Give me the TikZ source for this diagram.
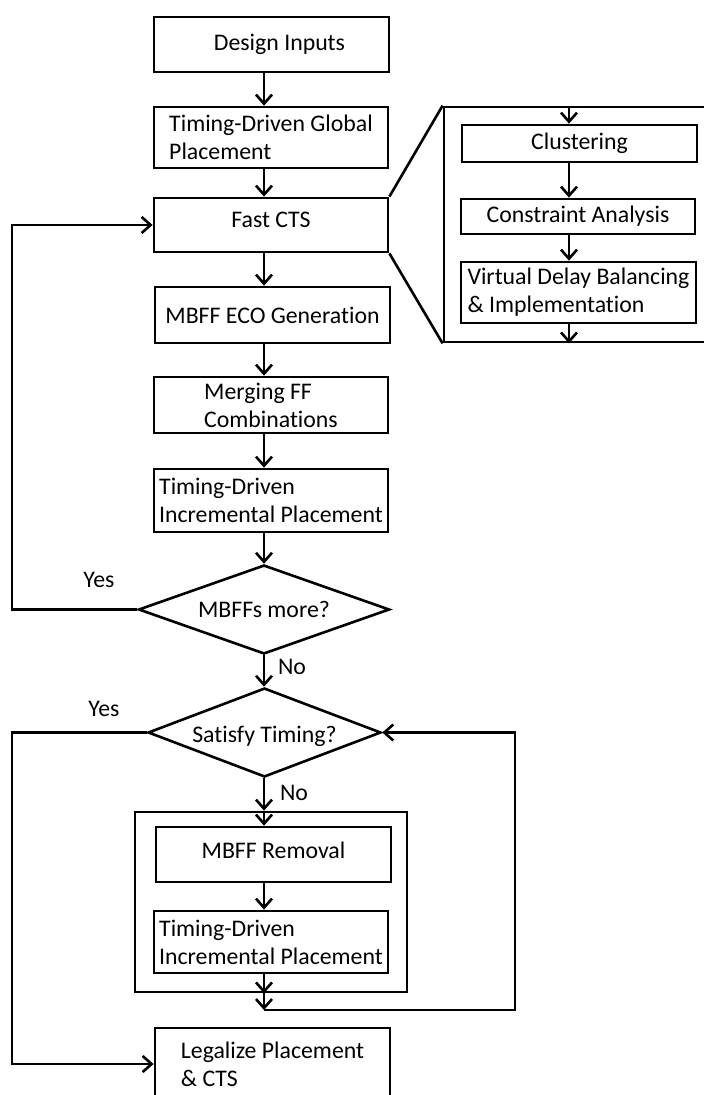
\documentclass[tikz,border=0pt]{standalone}
\usepackage{fontspec}
\setmainfont{Carlito}[Ligatures=NoCommon]
\usetikzlibrary{arrows.meta,shapes.geometric}
\begin{document}
\begin{tikzpicture}[x=1pt,y=-1pt,
  every node/.style={font=\fontsize{23.8}{28.2}\selectfont, inner sep=0pt},
  box/.style={draw, rectangle, line width=2.8pt, align=left},
  decision/.style={draw, diamond, shape aspect=2.8, line width=2.6pt, align=center},
  link/.style={line width=2.6pt},
  arr/.style={link, -{Straight Barb[length=9pt,width=16pt]}}]
\useasboundingbox (0,0) rectangle (704,1095);

% column guides for the connectors
\coordinate (col) at (264,0);
\coordinate (rc) at (569,0);
\coordinate (lx) at (12,0);

% main flow
\node[box, minimum width=235pt, minimum height=55pt] (in) at (271.5,44.5) {\hspace*{16pt}Design Inputs};
\node[box, minimum width=234pt, minimum height=61pt] (gp) at (271,137.5) {Timing-Driven Global\\Placement};
\node[box, minimum width=234pt, minimum height=54pt] (cts) at (271,225) {\raisebox{5pt}[\height][\depth]{Fast CTS}};
\node[box, minimum width=235pt, minimum height=56pt] (eco) at (272.5,315) {MBFF ECO Generation};
\node[box, minimum width=234pt, minimum height=56pt] (merge) at (271,405) {Merging FF\\Combinations};
\node[box, minimum width=234pt, minimum height=63pt] (tdip) at (271,500.5) {Timing-Driven\\Incremental Placement};
\node[decision, minimum width=251pt, minimum height=89pt] (more) at (264,609.5) {MBFFs more?};
\node[decision, minimum width=233pt, minimum height=89pt] (sat) at (264.5,732.5) {\raisebox{-4pt}[\height][\depth]{Satisfy Timing?}};

% removal group
\node[box, minimum width=272pt, minimum height=180pt] (grp) at (271,902) {};
\node[box, minimum width=235pt, minimum height=55pt] (rem) at (273.5,854.5) {\raisebox{4pt}[\height][\depth]{MBFF Removal}};
\node[box, minimum width=234pt, minimum height=62pt] (tdip2) at (271,942) {Timing-Driven\\Incremental Placement};
\node[box, minimum width=235pt, minimum height=72pt] (leg) at (272.5,1064) {Legalize Placement\\\& CTS};

% detail panel of Fast CTS
\node[box, minimum width=266pt, minimum height=235pt] (panel) at (577,224.5) {};
\node[box, minimum width=235pt, minimum height=37pt] (clus) at (579.5,143.5) {Clustering};
\node[box, minimum width=234pt, minimum height=35pt] (cons) at (578,216.5) {Constraint Analysis};
\node[box, minimum width=235pt, minimum height=61pt] (vdb) at (578.5,292.5) {Virtual Delay Balancing\\\& Implementation};

% labels
\node at (99,580) {Yes};
\node at (104,709) {Yes};
\node at (292,667) {No};
\node at (294,793) {No};

% main connectors
\draw[arr] (in.south -| col) -- (gp.north -| col);
\draw[arr] (gp.south -| col) -- (cts.north -| col);
\draw[arr] (cts.south -| col) -- (eco.north -| col);
\draw[arr] (eco.south -| col) -- (merge.north -| col);
\draw[arr] (merge.south -| col) -- (tdip.north -| col);
\draw[arr] (tdip.south -| col) -- (more.north);
\draw[arr] (more.south) -- (sat.north -| col);
\draw[arr] (sat.south -| col) -- (grp.north -| col);
\draw[arr] (grp.north -| col) -- (rem.north -| col);
\draw[arr] (rem.south -| col) -- (tdip2.north -| col);
\draw[arr] (tdip2.south -| col) -- (grp.south -| col);
\coordinate (ret) at (264,1010);
\coordinate (retR) at (515,1010);
\draw[arr] (grp.south -| col) -- (ret);
\draw[arr] (ret) -- (retR) |- (sat.east);

% feedback loops on the left
\draw[arr] (more.west) -- (more.west -| lx) |- (cts.west);
\draw[arr] (sat.west) -- (sat.west -| lx) |- (leg.west);

% zoom lines to the detail panel
\draw[link] (cts.north east) -- (panel.north west);
\draw[link] (cts.south east) -- (panel.south west);

% detail panel connectors
\draw[arr] (panel.north -| rc) -- (clus.north -| rc);
\draw[arr] (clus.south -| rc) -- (cons.north -| rc);
\draw[arr] (cons.south -| rc) -- (vdb.north -| rc);
\draw[arr] (vdb.south -| rc) -- (panel.south -| rc);
\end{tikzpicture}
\end{document}
